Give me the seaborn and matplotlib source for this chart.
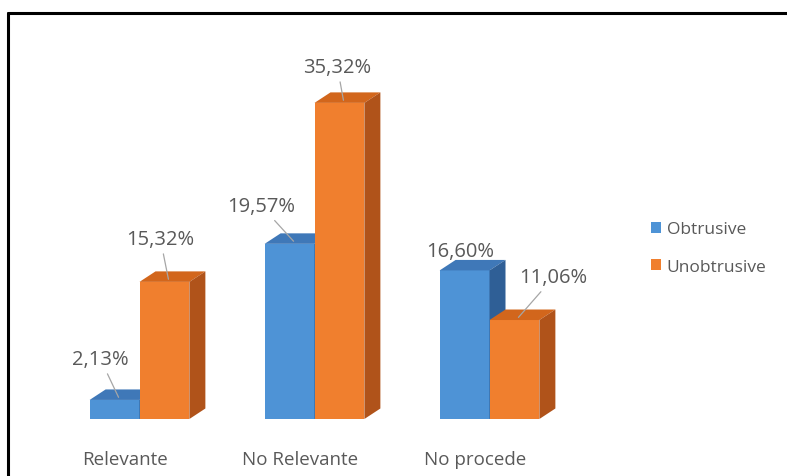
import matplotlib
matplotlib.use("Agg")
import matplotlib.pyplot as plt
import matplotlib.transforms as mtransforms
from matplotlib.patches import Polygon, Patch
from matplotlib.lines import Line2D
import seaborn as sns
import pandas as pd

# --- data -------------------------------------------------------------
categorias = ["Relevante", "No Relevante", "No procede"]
series = ["Obtrusive", "Unobtrusive"]
obtrusive = [2.13, 19.57, 16.60]
unobtrusive = [15.32, 35.32, 11.06]

# label placement (offset in pixels from the bar top) and leader-line flag
label_offsets = {
    ("Obtrusive", 0): (-18, 38), ("Unobtrusive", 0): (-8, 40),
    ("Obtrusive", 1): (-32, 35), ("Unobtrusive", 1): (-6, 33),
    ("Obtrusive", 2): (-8, 17), ("Unobtrusive", 2): (35, 40),
}
leader = {("Obtrusive", 2): False}

df = pd.DataFrame({
    "categoria": categorias * 2,
    "serie": [series[0]] * 3 + [series[1]] * 3,
    "valor": obtrusive + unobtrusive,
})

# --- style ------------------------------------------------------------
sns.set_theme(style="white")
plt.rcParams["font.family"] = ["Open Sans", "DejaVu Sans"]
text_color = "#595959"

face = {"Obtrusive": "#4e93d6", "Unobtrusive": "#f07f2e"}
top = {"Obtrusive": "#3f78b8", "Unobtrusive": "#d2661c"}
side = {"Obtrusive": "#2f5f96", "Unobtrusive": "#b0531a"}

W, H = 787, 477
fig = plt.figure(figsize=(W / 100, H / 100), dpi=100)
px_y = 8.95          # pixels per percentage point
px_x = 175.0         # pixels per category step
ax_left, ax_w = 20, 620
base_px = 420
ymax = 42.5
ax = fig.add_axes([ax_left / W, (H - base_px) / H, ax_w / W, ymax * px_y / H])

sns.barplot(data=df, x="categoria", y="valor", hue="serie",
            palette=face, width=0.57, saturation=1, ax=ax,
            linewidth=0, legend=False)

x0 = (ax_left - 139.5) / px_x
ax.set_xlim(x0, x0 + ax_w / px_x)
ax.set_ylim(0, ymax)

# depth of the pseudo-3D extrusion
dx = 16 / px_x
dy = 10.5 / px_y

patches = list(ax.patches)
for i, p in enumerate(patches):
    s = series[i // 3]
    z = 2 if s == "Obtrusive" else 3
    p.set_zorder(z)
    xa, w, h = p.get_x(), p.get_width(), p.get_height()
    xb = xa + w
    topface = Polygon([(xa, h), (xa + dx, h + dy), (xb + dx, h + dy), (xb, h)],
                      closed=True, facecolor=top[s], edgecolor="none", zorder=z + 0.1)
    sideface = Polygon([(xb, 0), (xb + dx, dy), (xb + dx, h + dy), (xb, h)],
                       closed=True, facecolor=side[s], edgecolor="none", zorder=z + 0.1)
    ax.add_patch(topface)
    ax.add_patch(sideface)

    j = i % 3
    cx = xa + w / 2 + dx * 0.25
    cy = h + dy * 0.25
    off = label_offsets[(s, j)]
    arrow = None
    if leader.get((s, j), True):
        arrow = dict(arrowstyle="-", color="#a6a6a6", lw=0.9, shrinkA=1, shrinkB=0)
    ax.annotate(f"{h:.2f}".replace(".", ",") + "%", xy=(cx, cy), xytext=off,
                textcoords="offset pixels", ha="center", va="center",
                fontsize=14.5, color=text_color, arrowprops=arrow, zorder=5)

# axes cosmetics
sns.despine(ax=ax, left=True, bottom=True)
ax.set_xlabel("")
ax.set_ylabel("")
ax.set_yticks([])
ax.tick_params(axis="x", length=0, pad=22, labelsize=13.5, labelcolor=text_color)
shift = mtransforms.ScaledTranslation(-14 / 100, 0, fig.dpi_scale_trans)
for lab in ax.get_xticklabels():
    lab.set_transform(lab.get_transform() + shift)

# legend
handles = [Patch(facecolor=face[s], edgecolor="none") for s in series]
ax.legend(handles, series, loc="center left",
          bbox_to_anchor=(651 / W, (H - 249) / H), bbox_transform=fig.transFigure,
          frameon=False, fontsize=12.5, labelcolor=text_color,
          handlelength=0.6, handleheight=0.6, handletextpad=0.3,
          labelspacing=1.25, borderpad=0, borderaxespad=0)

# frame lines
fig.add_artist(Line2D([8 / W, 1], [1 - 14 / H, 1 - 14 / H], color="black", lw=2.2,
                      transform=fig.transFigure))
fig.add_artist(Line2D([8 / W, 8 / W], [0, 1 - 14 / H], color="black", lw=2.2,
                      transform=fig.transFigure))

fig.savefig("out.png", dpi=100, facecolor="white")
